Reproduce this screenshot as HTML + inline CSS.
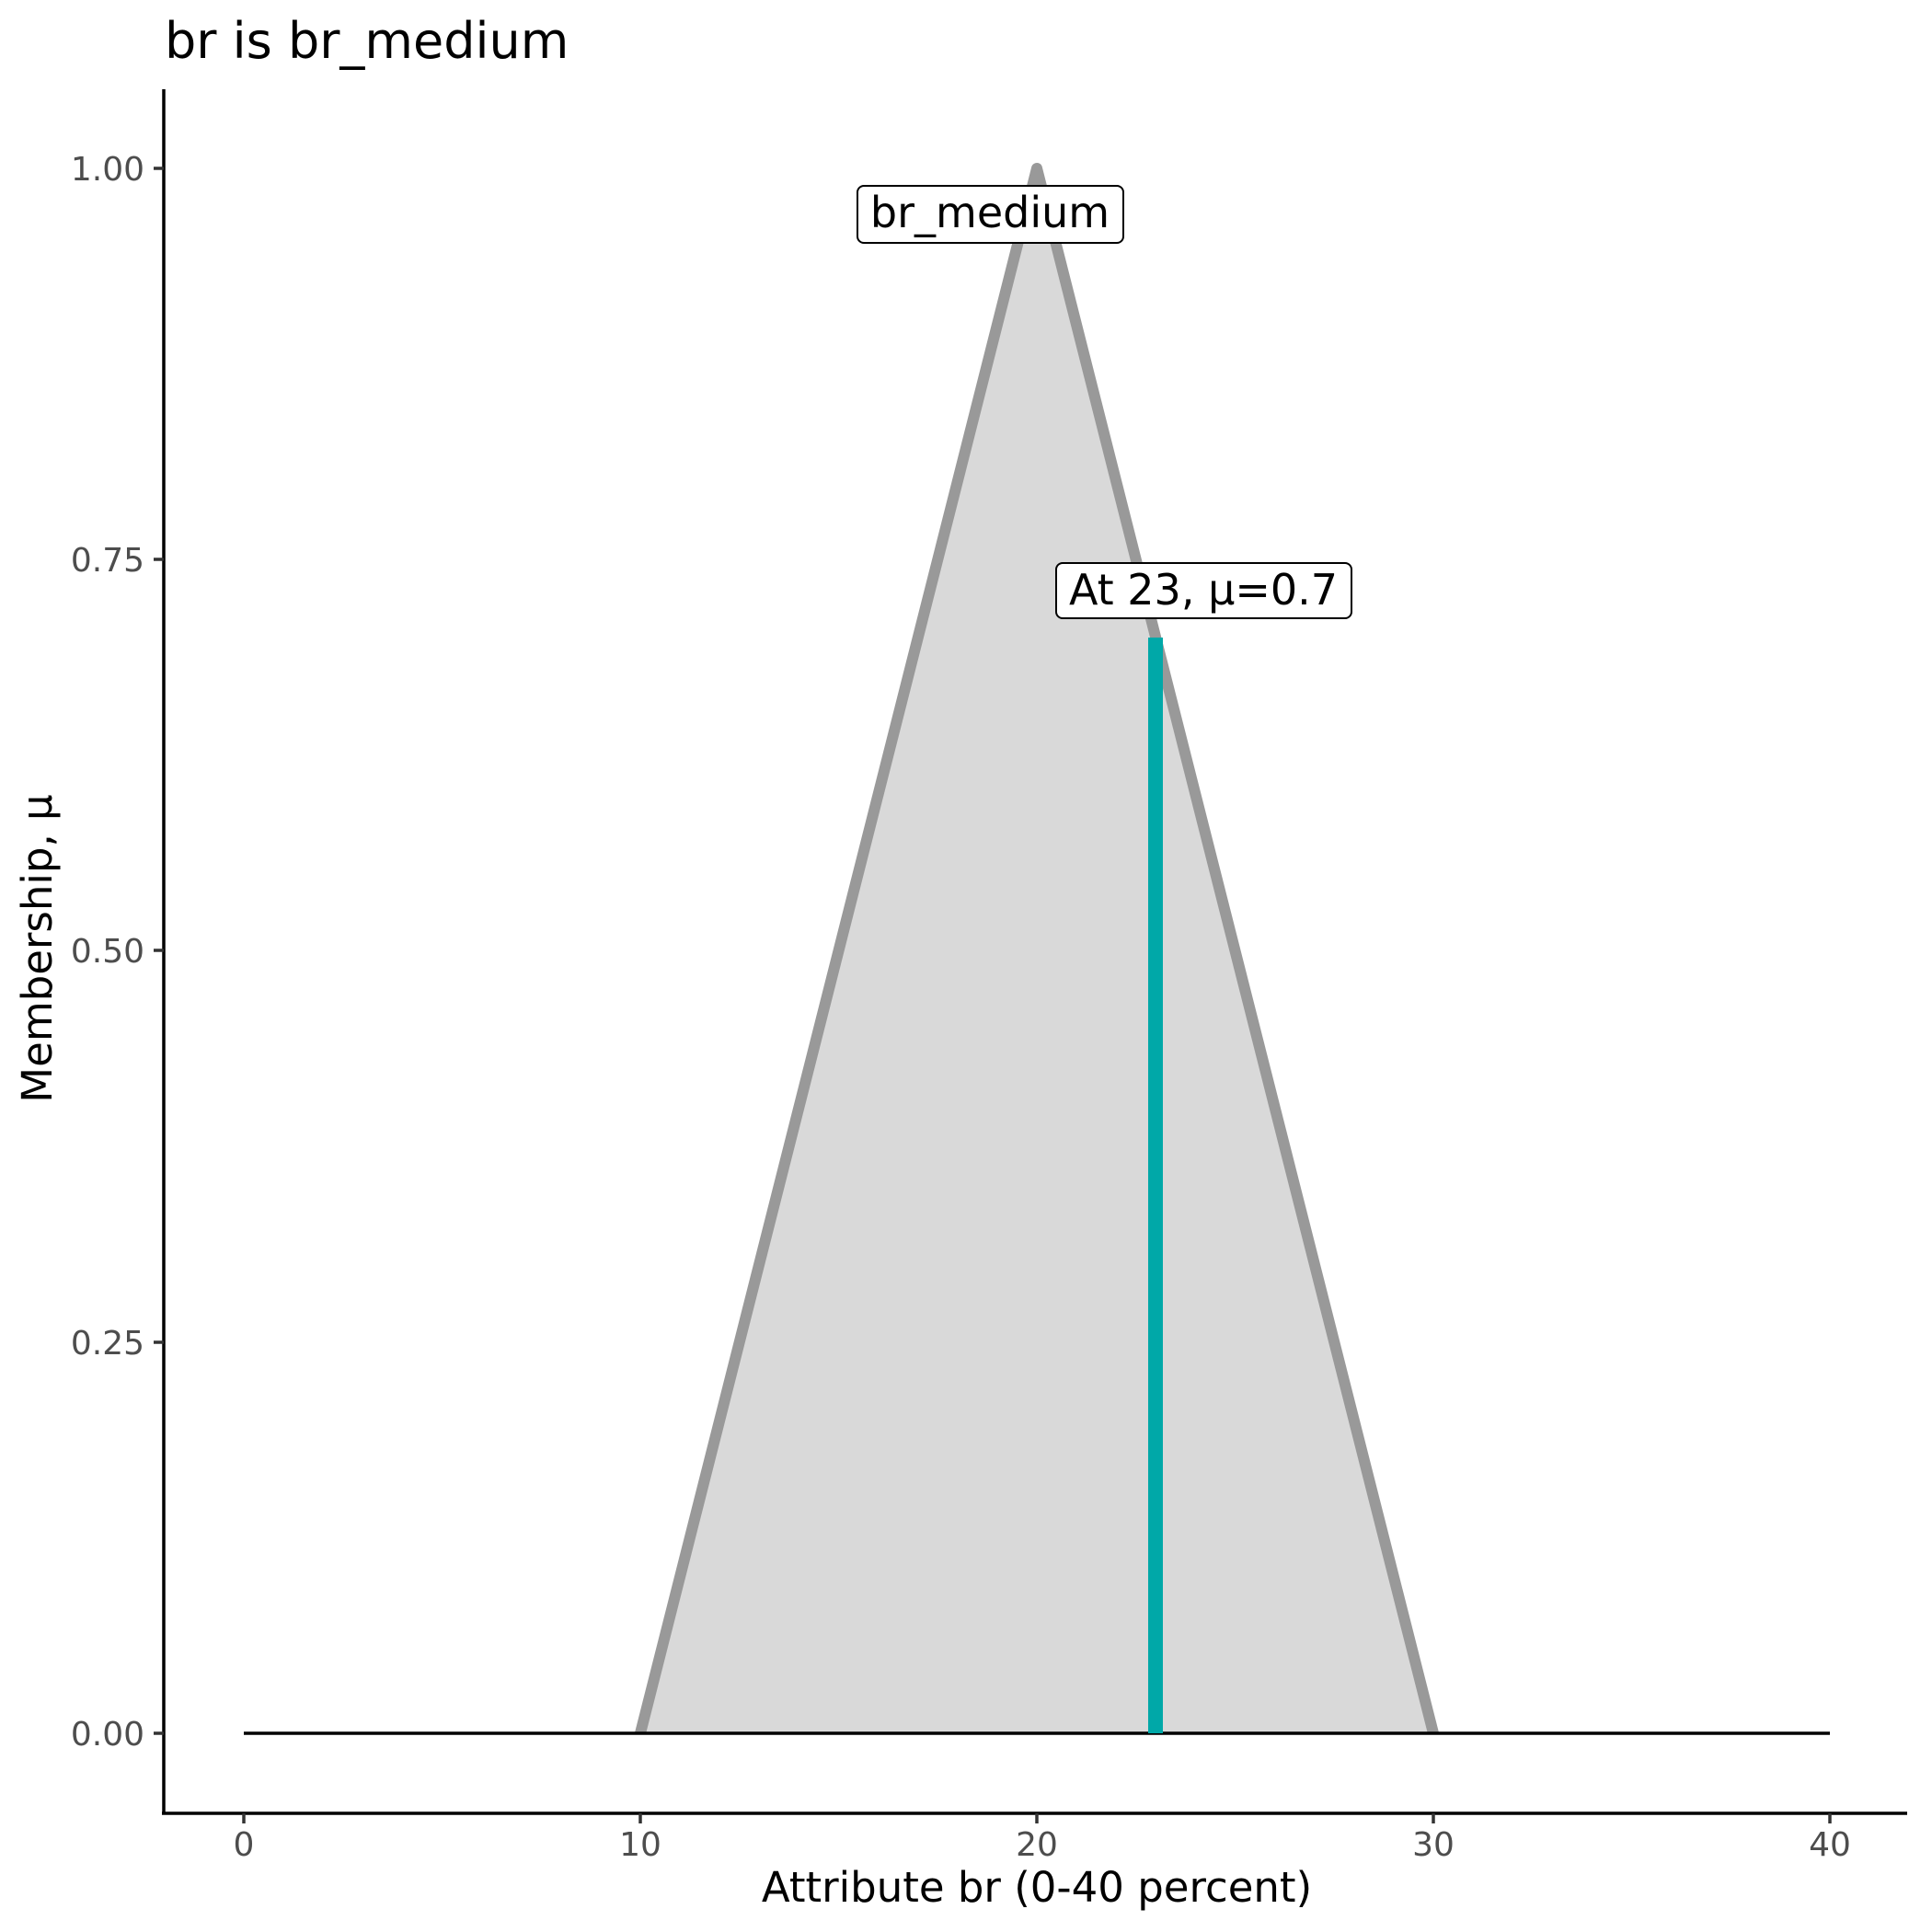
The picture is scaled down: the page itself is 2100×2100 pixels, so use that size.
<!DOCTYPE html>
<html><head><meta charset="utf-8"><style>html,body{margin:0;padding:0;background:#fff}svg{display:block}</style></head>
<body>
<svg width="2100" height="2100" viewBox="0 0 2100 2100" xmlns="http://www.w3.org/2000/svg" font-family="'DejaVu Sans','Liberation Sans',sans-serif">
<rect width="2100" height="2100" fill="#fff"/>
<text x="179" y="63" font-size="54" fill="#000">br is br_medium</text>
<polygon points="696,1884 1127,183 1558,1884" fill="#d9d9d9"/>
<polyline points="696,1884 1127,183 1558,1884" fill="none" stroke="#999999" stroke-width="12" stroke-linejoin="round"/>
<line x1="265" y1="1884" x2="1989" y2="1884" stroke="#000" stroke-width="3.5"/>
<line x1="1256" y1="1884" x2="1256" y2="693" stroke="#00A8A8" stroke-width="16"/>
<rect x="932" y="202" width="289" height="62" rx="7" fill="#fff" stroke="#000" stroke-width="2"/>
<text x="1076" y="247" font-size="46" text-anchor="middle" fill="#000">br_medium</text>
<rect x="1148" y="612" width="321" height="60" rx="7" fill="#fff" stroke="#000" stroke-width="2"/>
<text x="1308" y="657" font-size="46" text-anchor="middle" fill="#000">At 23, μ=0.7</text>
<line x1="178" y1="97" x2="178" y2="1971" stroke="#000" stroke-width="3.5"/>
<line x1="176" y1="1971" x2="2073" y2="1971" stroke="#000" stroke-width="3.5"/>
<g stroke="#333" stroke-width="3.5">
<line x1="167" y1="183" x2="178" y2="183"/><line x1="167" y1="608" x2="178" y2="608"/><line x1="167" y1="1033" x2="178" y2="1033"/><line x1="167" y1="1459" x2="178" y2="1459"/><line x1="167" y1="1884" x2="178" y2="1884"/>
</g>
<g font-size="36" fill="#4d4d4d" text-anchor="end">
<text x="157" y="196">1.00</text><text x="157" y="621">0.75</text><text x="157" y="1046">0.50</text><text x="157" y="1472">0.25</text><text x="157" y="1897">0.00</text>
</g>
<g stroke="#333" stroke-width="3.5">
<line x1="265" y1="1971" x2="265" y2="1982"/><line x1="696" y1="1971" x2="696" y2="1982"/><line x1="1127" y1="1971" x2="1127" y2="1982"/><line x1="1558" y1="1971" x2="1558" y2="1982"/><line x1="1989" y1="1971" x2="1989" y2="1982"/>
</g>
<g font-size="36" fill="#4d4d4d" text-anchor="middle">
<text x="265" y="2017">0</text><text x="696" y="2017">10</text><text x="1127" y="2017">20</text><text x="1558" y="2017">30</text><text x="1989" y="2017">40</text>
</g>
<text x="1127" y="2067" font-size="45" text-anchor="middle" fill="#000">Attribute br (0-40 percent)</text>
<text transform="translate(56,1031) rotate(-90)" font-size="45" text-anchor="middle" fill="#000">Membership, μ</text>
</svg>
</body></html>
